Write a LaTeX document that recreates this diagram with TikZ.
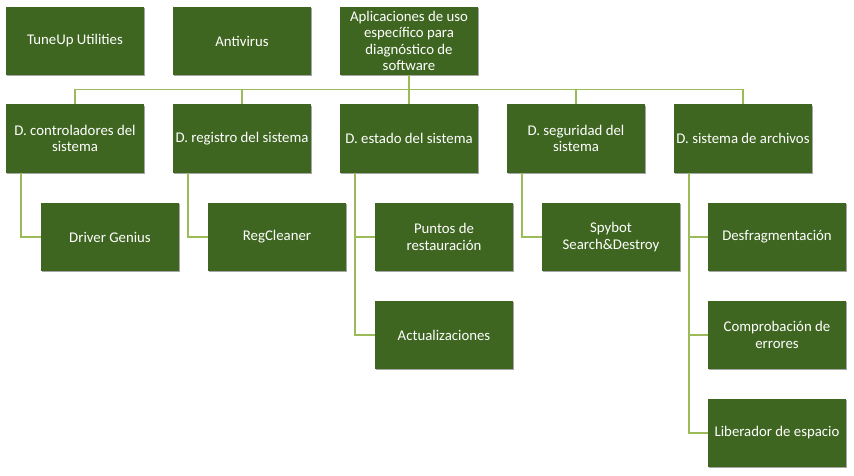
\documentclass[tikz,border=0pt]{standalone}
\usepackage{fontspec}
\setmainfont{Carlito}
\usetikzlibrary{shadows}
\definecolor{boxgreen}{HTML}{3F6621}
\definecolor{linegreen}{HTML}{9BBB59}
\begin{document}
\begin{tikzpicture}[x=1pt,y=-1pt,
  gbox/.style={fill=boxgreen, text=white, minimum width=138pt, minimum height=68pt,
    inner sep=2pt, align=center, font=\fontsize{14.8}{16.3}\selectfont,
    drop shadow={shadow xshift=1.2pt, shadow yshift=-1.2pt, opacity=0.35, fill=black}},
  conn/.style={draw=linegreen, line width=1.5pt}]
\useasboundingbox[fill=white] (0,0) rectangle (854,476);
\coordinate (bus) at (0,89.5);
% top row
\node[gbox] (tune) at (75,41) {TuneUp Utilities};
\node[gbox] (anti) at (242,41) {Antivirus};
\node[gbox] (apps) at (409,41) {Aplicaciones de uso\\específico para\\diagnóstico de\\software};
% level 2
\node[gbox] (ctrl) at (75,138.5) {D. controladores del\\sistema};
\node[gbox] (reg) at (242,138.5) {D. registro del sistema};
\node[gbox] (est) at (409,138.5) {D. estado del sistema};
\node[gbox] (seg) at (576,138.5) {D. seguridad del\\sistema};
\node[gbox] (arch) at (743,138.5) {D. sistema de archivos};
% children
\node[gbox] (drv) at (110,237) {Driver Genius};
\node[gbox] (rc) at (277,237) {RegCleaner};
\node[gbox] (pts) at (444,237) {Puntos de\\restauración};
\node[gbox] (act) at (444,335) {Actualizaciones};
\node[gbox] (spy) at (611,237) {Spybot\\Search\&Destroy};
\node[gbox] (des) at (777,237) {Desfragmentación};
\node[gbox] (comp) at (777,335) {Comprobación de\\errores};
\node[gbox] (lib) at (777,433) {Liberador de espacio};
% connectors
\foreach \c in {ctrl,reg,est,seg,arch}{
  \draw[conn] (apps.south) |- (bus -| \c.north) -- (\c.north);
}
\draw[conn] ([xshift=15pt]ctrl.south west) |- (drv.west);
\draw[conn] ([xshift=15pt]reg.south west) |- (rc.west);
\draw[conn] ([xshift=15pt]est.south west) |- (pts.west);
\draw[conn] ([xshift=15pt]est.south west) |- (act.west);
\draw[conn] ([xshift=15pt]seg.south west) |- (spy.west);
\draw[conn] ([xshift=15pt]arch.south west) |- (des.west);
\draw[conn] ([xshift=15pt]arch.south west) |- (comp.west);
\draw[conn] ([xshift=15pt]arch.south west) |- (lib.west);
\end{tikzpicture}
\end{document}
